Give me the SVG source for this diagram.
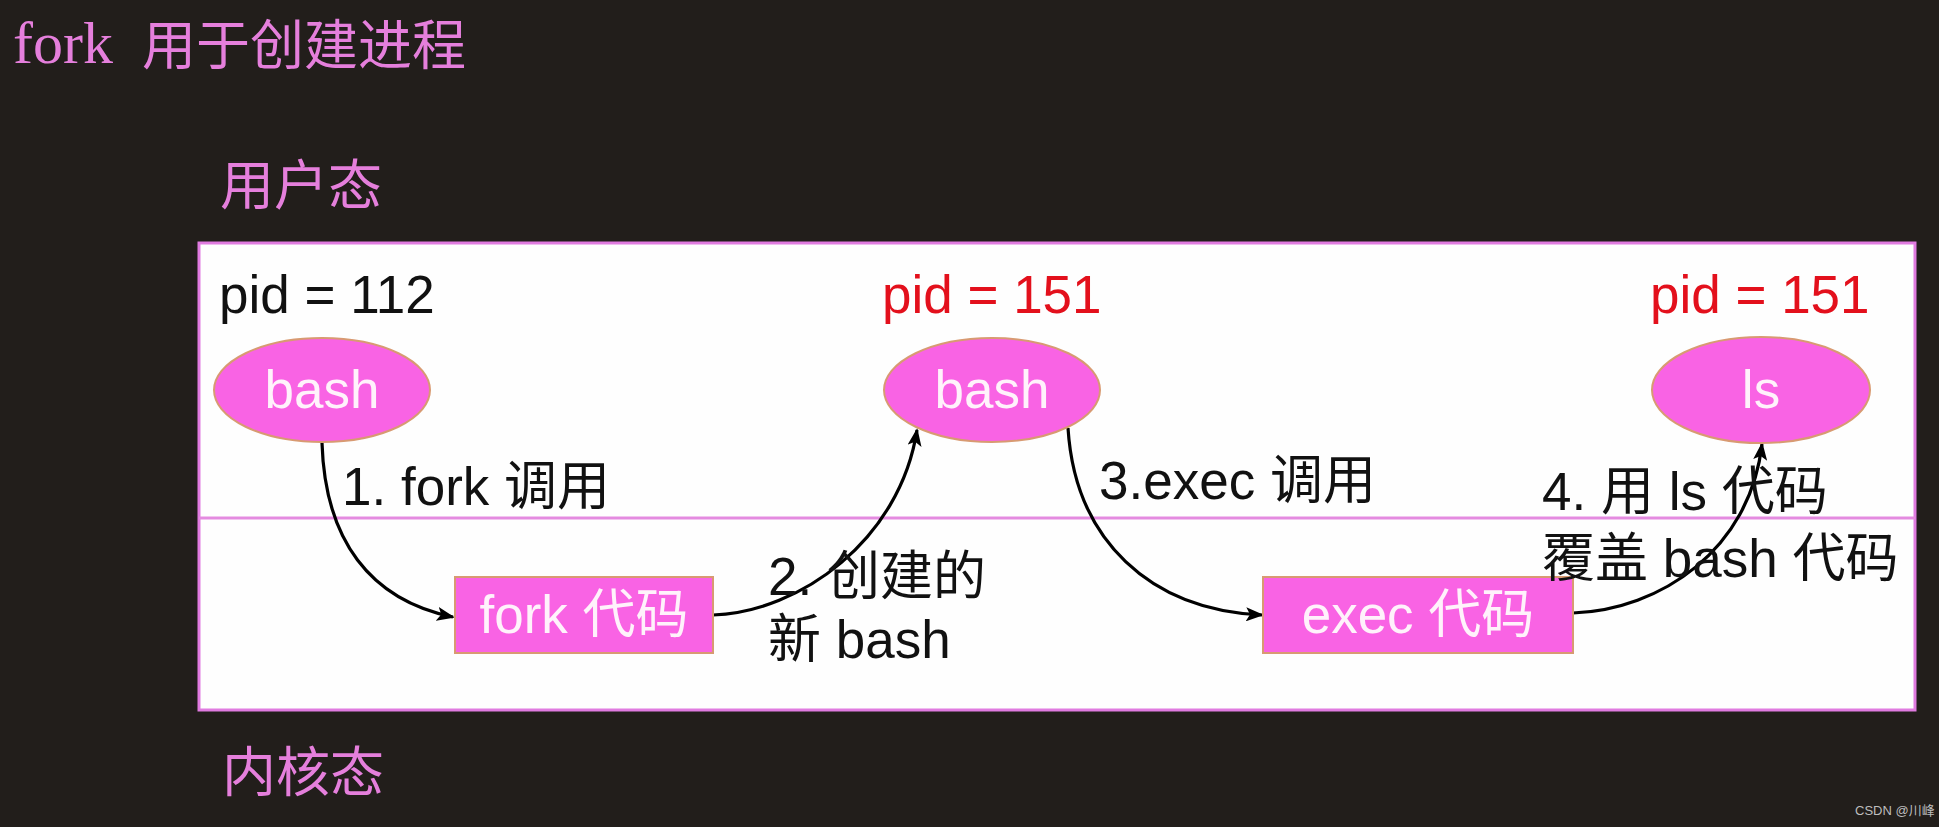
<svg xmlns="http://www.w3.org/2000/svg" width="1939" height="827" viewBox="0 0 1939 827">
<style>
.bg{fill:#221e1b}
.title{font-family:"Liberation Serif","Noto Sans CJK SC",serif;fill:#e57fdc}
.sans{font-family:"Liberation Sans","Noto Sans CJK SC",sans-serif}
.lbl{font-size:53px;fill:#111}
.pid{font-size:53px;fill:#111}
.red{fill:#e3101c}
.node{fill:#f963e4;stroke:#d89a72;stroke-width:2}
.ntext{font-size:53px;fill:#fff2fb;text-anchor:middle}
.edge{fill:none;stroke:#000;stroke-width:3.2}
</style>
<defs>
<marker id="ah" markerUnits="userSpaceOnUse" markerWidth="18" markerHeight="14" refX="16" refY="7" orient="auto">
<path d="M0,0 L18,7 L0,14 L4,7 z" fill="#000"/>
</marker>
</defs>
<rect class="bg" x="0" y="0" width="1939" height="827"/>
<text class="title" x="13" y="63" font-size="60">fork</text>
<text class="title" x="142" y="65" font-size="54">用于创建进程</text>
<text class="title" x="220" y="205" font-size="54">用户态</text>
<text class="title" x="222" y="792" font-size="54">内核态</text>
<g id="panel">
<rect x="199" y="243" width="1716" height="467" fill="#fefefe" stroke="#e07be0" stroke-width="3"/>
<line x1="199" y1="518" x2="1915" y2="518" stroke="#e48be0" stroke-width="3"/>
</g>
<g id="connectors">
<path class="edge" d="M322,443 C325,540 370,600 453,617" marker-end="url(#ah)"/>
<path class="edge" d="M713,615 C800,612 900,540 917,430" marker-end="url(#ah)"/>
<path class="edge" d="M1068,428 C1075,540 1150,610 1262,615" marker-end="url(#ah)"/>
<path class="edge" d="M1573,613 C1660,610 1750,550 1762,444" marker-end="url(#ah)"/>
</g>
<g id="bash1">
<text class="sans pid" x="219" y="313">pid = 112</text>
<ellipse class="node" cx="322" cy="390" rx="108" ry="52"/>
<text class="sans ntext" x="322" y="408">bash</text>
</g>
<g id="bash2">
<text class="sans pid red" x="882" y="313">pid = 151</text>
<ellipse class="node" cx="992" cy="390" rx="108" ry="52"/>
<text class="sans ntext" x="992" y="408">bash</text>
</g>
<g id="ls">
<text class="sans pid red" x="1650" y="313">pid = 151</text>
<ellipse class="node" cx="1761" cy="390" rx="109" ry="53"/>
<text class="sans ntext" x="1761" y="408">ls</text>
</g>
<g id="forkcode">
<rect class="node" x="455" y="577" width="258" height="76"/>
<text class="sans ntext" x="584" y="633">fork 代码</text>
</g>
<g id="execcode">
<rect class="node" x="1263" y="577" width="310" height="76"/>
<text class="sans ntext" x="1418" y="633">exec 代码</text>
</g>
<g id="labels">
<text class="sans lbl" x="342" y="505">1. fork 调用</text>
<text class="sans lbl" x="768" y="595">2. 创建的</text>
<text class="sans lbl" x="768" y="658">新 bash</text>
<text class="sans lbl" x="1099" y="499">3.exec 调用</text>
<text class="sans lbl" x="1542" y="510">4. 用 ls 代码</text>
<text class="sans lbl" x="1542" y="577">覆盖 bash 代码</text>
</g>
<text class="sans" x="1855" y="815" font-size="13" fill="#bdbdbd">CSDN @川峰</text>
</svg>
